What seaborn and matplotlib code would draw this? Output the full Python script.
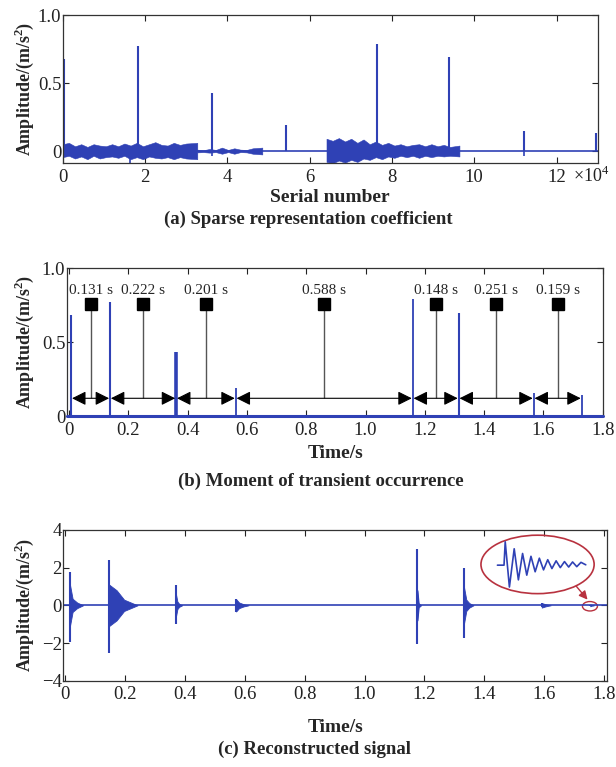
import numpy as np
import matplotlib
matplotlib.use("Agg")
import matplotlib.pyplot as plt
from matplotlib.patches import Ellipse
from matplotlib.ticker import FixedLocator, FixedFormatter
import seaborn as sns

# ---- (a) sparse representation coefficient ----
spike_serial = [0.03e4, 1.83e4, 3.63e4, 5.43e4, 7.63e4, 9.38e4, 11.2e4, 12.97e4]
spike_coef = [0.68, 0.77, 0.43, 0.19, 0.79, 0.69, 0.15, 0.135]
dip_serial = [1.64e4, 3.63e4, 11.2e4]
dip_coef = [-0.09, -0.04, -0.035]

noise_a_x = [0.0, 0.15, 0.3, 0.45, 0.6, 0.75, 0.9, 1.05, 1.2, 1.35, 1.5, 1.65,
             1.8, 1.95, 2.1, 2.25, 2.4, 2.55, 2.7, 2.85, 3.0, 3.27]
noise_a_top = [0.05, 0.06, 0.035, 0.05, 0.03, 0.05, 0.04, 0.035, 0.05, 0.035, 0.055,
               0.04, 0.06, 0.035, 0.05, 0.065, 0.045, 0.04, 0.06, 0.045, 0.055, 0.06]
noise_a_bot = [-0.045, -0.035, -0.055, -0.04, -0.06, -0.035, -0.055, -0.045, -0.04, -0.05,
               -0.035, -0.06, -0.045, -0.06, -0.04, -0.05, -0.055, -0.045, -0.06, -0.045,
               -0.055, -0.06]
noise_b_x = [3.27, 3.42, 3.57, 3.72, 3.87, 4.02, 4.17, 4.32, 4.47, 4.62, 4.85]
noise_b_top = [0.01, 0.006, 0.015, 0.008, 0.025, 0.008, 0.02, 0.01, 0.008, 0.02, 0.025]
noise_b_bot = [-0.01, -0.008, -0.012, -0.008, -0.02, -0.008, -0.02, -0.008, -0.01, -0.02, -0.025]
noise_c_x = [6.41, 6.56, 6.71, 6.86, 7.01, 7.16, 7.31, 7.46, 7.61, 7.76, 7.91, 8.06,
             8.21, 8.36, 8.51, 8.66, 8.81, 8.96, 9.11, 9.26, 9.41, 9.64]
noise_c_top = [0.09, 0.075, 0.095, 0.07, 0.09, 0.06, 0.085, 0.05, 0.07, 0.045, 0.06,
               0.04, 0.05, 0.035, 0.045, 0.05, 0.035, 0.05, 0.035, 0.045, 0.03, 0.04]
noise_c_bot = [-0.08, -0.09, -0.07, -0.085, -0.065, -0.08, -0.055, -0.065, -0.045, -0.06,
               -0.04, -0.05, -0.035, -0.045, -0.035, -0.05, -0.035, -0.045, -0.035, -0.04,
               -0.035, -0.04]

# ---- (b) moments of transient occurrence ----
transient_t = [0.007, 0.138, 0.361, 0.562, 1.159, 1.314, 1.567, 1.729]
transient_amp = [0.684, 0.774, 0.435, 0.19, 0.79, 0.695, 0.155, 0.142]
interval_labels = ["0.131 s", "0.222 s", "0.201 s", "0.588 s", "0.148 s", "0.251 s", "0.159 s"]

# ---- (c) reconstructed signal ----
burst_t = [0.015, 0.147, 0.369, 0.571, 1.177, 1.332, 1.592, 1.754]
burst_up = [1.77, 2.4, 1.06, 0.36, 3.0, 1.96, 0.1, 0.04]
burst_down = [-1.95, -2.55, -1.0, -0.36, -2.05, -1.75, -0.1, -0.04]
# decay envelope of each burst: amplitude at onset, then at three later offsets (s)
env_amp = [[1.2, 0.35, 0.15], [1.1, 0.8, 0.3], [0.7, 0.2, 0.08], [0.33, 0.15, 0.06],
           [0.8, 0.12, 0.05], [1.0, 0.3, 0.12], [0.12, 0.06, 0.03], [0.05, 0.02, 0.01]]
env_dt = [[0.01, 0.025, 0.045], [0.025, 0.05, 0.095], [0.006, 0.012, 0.022],
          [0.01, 0.025, 0.042], [0.004, 0.008, 0.012], [0.008, 0.018, 0.032],
          [0.012, 0.02, 0.03], [0.005, 0.008, 0.012]]

inset_t = [1.444, 1.466, 1.470, 1.484, 1.500, 1.514, 1.528, 1.542, 1.556, 1.570,
           1.584, 1.598, 1.612, 1.626, 1.640, 1.654, 1.668, 1.682, 1.695, 1.709,
           1.723, 1.739]
inset_y = [2.13, 2.13, 3.37, 0.97, 3.0, 1.35, 2.75, 1.6, 2.6, 1.78, 2.5, 1.88,
           2.42, 1.95, 2.36, 2.0, 2.32, 2.03, 2.3, 2.05, 2.28, 2.15]

BLUE = "#2f41b5"
RED = "#b8323f"

sns.set_theme(style="ticks")
plt.rcParams["font.family"] = ["Liberation Serif", "DejaVu Serif"]
plt.rcParams["mathtext.fontset"] = "custom"
plt.rcParams["mathtext.rm"] = "Liberation Serif"
plt.rcParams["mathtext.bf"] = "Liberation Serif:bold"

fig = plt.figure(figsize=(6.16, 7.67), dpi=100)
ax_a = fig.add_axes([0.1018, 0.7875, 0.8685, 0.1929])
ax_b = fig.add_axes([0.1083, 0.4576, 0.8701, 0.1926])
ax_c = fig.add_axes([0.1028, 0.1125, 0.8826, 0.1966])

ylab = r"Amplitude/(m/s$^{\mathbf{2}}$)"
H = 767.0


def style_axes(ax, xticks, xlabels, yticks, ylabels):
    ax.xaxis.set_major_locator(FixedLocator(xticks))
    ax.xaxis.set_major_formatter(FixedFormatter(xlabels))
    ax.yaxis.set_major_locator(FixedLocator(yticks))
    ax.yaxis.set_major_formatter(FixedFormatter(ylabels))
    ax.tick_params(direction="in", length=4, width=0.8, top=True, right=True,
                   labelsize=13.5, colors="#222222")
    ax.tick_params(axis="x", pad=4)
    ax.tick_params(axis="y", pad=1)
    for s in ax.spines.values():
        s.set_color("#333333")
        s.set_linewidth(0.9)
    ax.set_facecolor("white")
    box = ax.get_position()
    fig.text(0.04, box.y0 + box.height / 2, ylab, rotation=90, ha="center", va="center",
             fontsize=13, fontweight="bold")


def label(x, y_px, s, size):
    fig.text(x, 1 - y_px / H, s, ha="center", va="center", fontsize=size, fontweight="bold")


# (a)
ax = ax_a
ax.axhline(0, color=BLUE, lw=1.2)
for xs, top, bot in [(noise_a_x, noise_a_top, noise_a_bot),
                     (noise_b_x, noise_b_top, noise_b_bot),
                     (noise_c_x, noise_c_top, noise_c_bot)]:
    xs = np.array(xs) * 1e4
    ax.fill_between(xs, bot, top, color=BLUE, lw=0.4, edgecolor=BLUE)
ax.vlines(spike_serial, 0, spike_coef, color=BLUE, lw=1.5)
ax.vlines(dip_serial, dip_coef, 0, color=BLUE, lw=1.2)
ax.set_xlim(0, 13e4)
ax.set_ylim(-0.088, 1.0)
style_axes(ax, [0, 2e4, 4e4, 6e4, 8e4, 10e4, 12e4], ["0", "2", "4", "6", "8", "10", "12"],
           [0, 0.5, 1.0], ["0", "0.5", "1.0"])
fig.text(0.93, 1 - 176 / H, r"$\times$10$^4$", fontsize=13, ha="left", va="center",
         color="#222222")
label(0.536, 197, "Serial number", 14)
label(0.5, 219, "(a) Sparse representation coefficient", 13.5)

# (b)
ax = ax_b
ax.axhline(0, color=BLUE, lw=2.2, clip_on=False, zorder=3)
widths = [1.5, 1.5, 2.6, 1.3, 1.3, 1.5, 1.3, 1.3]
ax.vlines(transient_t, 0, transient_amp, color=BLUE, lw=widths, zorder=3)
arrow_y = 0.12
for i, lab in enumerate(interval_labels):
    t0, t1 = transient_t[i], transient_t[i + 1]
    mid = (t0 + t1) / 2
    ax.annotate("", xy=(t1 - 0.003, arrow_y), xytext=(t0 + 0.003, arrow_y),
                arrowprops=dict(arrowstyle="<|-|>,head_length=0.7,head_width=0.35",
                                color="black", lw=0.8, shrinkA=0, shrinkB=0,
                                mutation_scale=12))
    ax.vlines(mid, arrow_y, 0.756, color="#555555", lw=1.0)
    ax.plot(mid, 0.756, marker="s", ms=8.5, color="black")
    ax.text(mid, 0.853, lab, ha="center", va="center", fontsize=11)
ax.set_xlim(-0.008, 1.8)
ax.set_ylim(0, 1.0)
tb = [0, 0.2, 0.4, 0.6, 0.8, 1.0, 1.2, 1.4, 1.6, 1.8]
tb_lab = ["0", "0.2", "0.4", "0.6", "0.8", "1.0", "1.2", "1.4", "1.6", "1.8"]
style_axes(ax, tb, tb_lab, [0, 0.5, 1.0], ["0", "0.5", "1.0"])
label(0.544, 453, "Time/s", 14)
label(0.52, 481, "(b) Moment of transient occurrence", 13.5)

# (c)
ax = ax_c
ax.axhline(0, color=BLUE, lw=1.2)
ax.vlines(burst_t, burst_down, burst_up, color=BLUE, lw=1.5)
for t0, amps, dts in zip(burst_t, env_amp, env_dt):
    xs = [t0] + [t0 + d for d in dts]
    top = amps + [0]
    ax.fill_between(xs, [-a for a in top], top, color=BLUE, lw=0.6, edgecolor=BLUE)
sns.lineplot(x=inset_t, y=inset_y, ax=ax, color=BLUE, lw=1.2, estimator=None, sort=False)
ax.add_patch(Ellipse((1.578, 2.17), 0.378, 3.1, fill=False, edgecolor=RED, lw=1.2))
ax.add_patch(Ellipse((1.753, -0.05), 0.05, 0.5, fill=False, edgecolor=RED, lw=1.0))
ax.annotate("", xy=(1.745, 0.3), xytext=(1.708, 1.0),
            arrowprops=dict(arrowstyle="-|>,head_length=0.5,head_width=0.25", color=RED,
                            lw=1.0, shrinkA=0, shrinkB=0, mutation_scale=10))
ax.set_xlim(-0.006, 1.81)
ax.set_ylim(-4, 4)
style_axes(ax, tb, tb_lab, [-4, -2, 0, 2, 4], ["\u22124", "\u22122", "0", "2", "4"])
label(0.544, 728, "Time/s", 14)
label(0.511, 749, "(c) Reconstructed signal", 13.5)

fig.savefig("out.png", dpi=100)
